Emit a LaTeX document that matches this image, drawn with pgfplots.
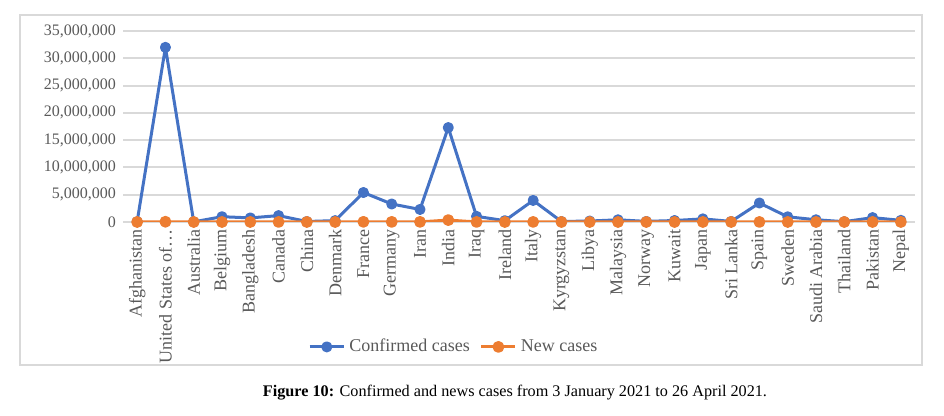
\documentclass[border=0pt]{standalone}
\usepackage{fontspec}
\setmainfont{Liberation Serif}
\usepackage{pgfplots}
\pgfplotsset{compat=1.18}
\definecolor{cblue}{HTML}{4472C4}
\definecolor{corange}{HTML}{ED7D31}
\definecolor{tgrey}{HTML}{595959}
\definecolor{ggrey}{HTML}{D9D9D9}
\begin{document}
\begin{tikzpicture}[x=0.5pt,y=0.5pt]
\path (0,0) rectangle (944,416);
\draw[ggrey, line width=1pt] (20,51) rectangle (922,401);
\begin{axis}[
  at={(61.5pt,97pt)}, anchor=south west,
  scale only axis, width=396pt, height=95.5pt,
  xmin=-0.5, xmax=27.5, ymin=0, ymax=35000000,
  ytick={0,5000000,10000000,15000000,20000000,25000000,30000000,35000000},
  scaled y ticks=false,
  /pgf/number format/fixed,
  /pgf/number format/1000 sep={,},
  /pgf/number format/assume math mode=true,
  ymajorgrids, grid style={ggrey, line width=1pt},
  axis line style={draw=none},
  major tick style={draw=none},
  yticklabel style={font=\fontsize{8}{9}\selectfont, text=tgrey},
  xtick={0,...,27},
  xticklabels={Afghanistan,United States of…,Australia,Belgium,Bangladesh,Canada,China,Denmark,France,Germany,Iran,India,Iraq,Ireland,Italy,Kyrgyzstan,Libya,Malaysia,Norway,Kuwait,Japan,Sri Lanka,Spain,Sweden,Saudi Arabia,Thailand,Pakistan,Nepal},
  xticklabel style={rotate=90, anchor=east, font=\fontsize{9}{10}\selectfont, text=tgrey},
  legend style={at={(0.419,-0.654)}, anchor=center, draw=none, fill=none,
    font=\fontsize{9}{10}\selectfont, text=tgrey,
    /tikz/every even column/.append style={column sep=3pt}},
  legend columns=2,
]
\addplot[cblue, line width=1.5pt, line join=round, mark=*, mark size=2pt, mark options={fill=cblue}] coordinates {
(0,59000) (1,32000000) (2,29700) (3,970000) (4,750000) (5,1170000) (6,90700)
(7,250000) (8,5400000) (9,3300000) (10,2300000) (11,17300000) (12,1030000)
(13,245000) (14,3950000) (15,95000) (16,175000) (17,400000) (18,110000)
(19,270000) (20,570000) (21,100000) (22,3480000) (23,950000) (24,410000)
(25,57000) (26,800000) (27,300000)};
\addlegendentry{Confirmed cases}
\addplot[corange, line width=1.5pt, line join=round, mark=*, mark size=2.2pt, mark options={fill=corange}] coordinates {
(0,100) (1,45000) (2,10) (3,3000) (4,2700) (5,8000) (6,20)
(7,700) (8,30000) (9,20000) (10,20000) (11,350000) (12,7000)
(13,400) (14,13000) (15,200) (16,500) (17,2700) (18,600)
(19,1200) (20,5000) (21,1000) (22,8000) (23,5000) (24,1000)
(25,2000) (26,5000) (27,3000)};
\addlegendentry{New cases}
\end{axis}
\node[font=\fontsize{8.1}{9}\selectfont, text=black] at (515,23) {\textbf{Figure 10:} Confirmed and news cases from 3 January 2021 to 26 April 2021.};
\end{tikzpicture}
\end{document}
